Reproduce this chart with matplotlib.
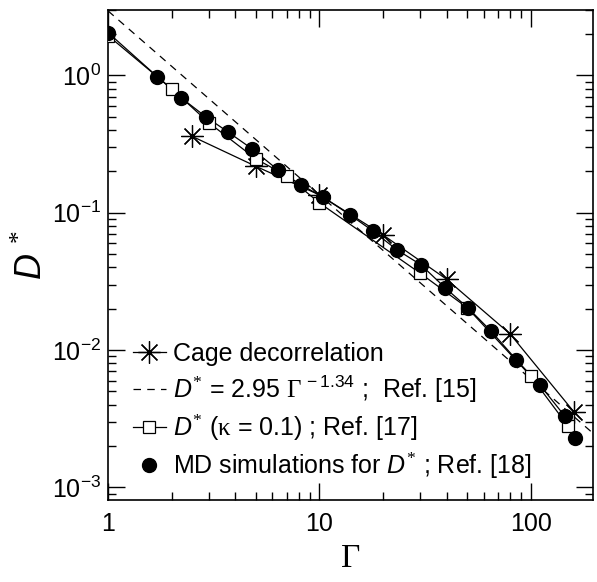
import numpy as np
import matplotlib
matplotlib.use("Agg")
import matplotlib.pyplot as plt
from matplotlib.ticker import FixedLocator, FuncFormatter, LogLocator, NullFormatter

plt.rcParams['font.family'] = ['Liberation Sans', 'DejaVu Sans']
plt.rcParams['mathtext.fontset'] = 'custom'
plt.rcParams['mathtext.rm'] = 'Liberation Serif'
plt.rcParams['mathtext.sf'] = 'Liberation Sans'
plt.rcParams['mathtext.it'] = 'Liberation Sans:italic'
plt.rcParams['mathtext.bf'] = 'Liberation Sans:bold'

# cage decorrelation (stars)
gamma_cage = [2.5, 5, 10, 20, 40, 80, 160]
D_cage = [0.36, 0.218, 0.135, 0.069, 0.0328, 0.0131, 0.00356]

# D* (kappa = 0.1), Ref. [17] (open squares)
gamma_k01 = [1, 2, 3, 5, 7, 10, 30, 50, 100, 150]
D_k01 = [1.95, 0.80, 0.452, 0.247, 0.186, 0.118, 0.0363, 0.0204, 0.00648, 0.00281]

# MD simulations, Ref. [18] (filled circles)
gamma_md = [1, 1.71, 2.21, 2.9, 3.69, 4.8, 6.37, 8.18, 10.4, 13.95, 17.9, 23.3,
            30.3, 39.4, 50.5, 64.9, 85.7, 110.6, 145, 162]
D_md = [2.05, 0.98, 0.69, 0.50, 0.388, 0.292, 0.205, 0.160, 0.130, 0.0966, 0.0738,
        0.0537, 0.0417, 0.0284, 0.0203, 0.01377, 0.00848, 0.00557, 0.00331, 0.00229]

# fit D* = 2.95 Gamma^-1.34, Ref. [15]
fit_coef = 2.95
fit_exp = -1.34
gamma_fit = np.array([1.0, 200.0])
D_fit = fit_coef * gamma_fit ** fit_exp

fig = plt.figure(figsize=(5.97, 5.82), dpi=100)
ax = fig.add_axes([0.181, 0.141, 0.812, 0.842])

ax.plot(gamma_fit, D_fit, color='black', lw=0.9, ls=(0, (6, 5)),
        label=r'$\mathit{D}^{*}$ = 2.95 $\Gamma^{\mathsf{\,-1.34}}$ ;  Ref. [15]', zorder=2)
ax.plot(gamma_cage, D_cage, color='black', lw=0.9, marker=(8, 2, 0), ms=16, mew=0.9,
        label='Cage decorrelation', zorder=3)
ax.plot(gamma_md, D_md, color='black', lw=0.9, zorder=3)
ax.plot(gamma_k01, D_k01, color='black', lw=0.9, marker='s', ms=9, mfc='white',
        mec='black', mew=0.9, label=r'$\mathit{D}^{*}$ ($\mathrm{\kappa}$ = 0.1) ; Ref. [17]', zorder=4)
ax.plot(gamma_md, D_md, ls='none', marker='o', ms=10, color='black',
        label=r'MD simulations for $\mathit{D}^{*}$ ; Ref. [18]', zorder=5)

ax.set_xscale('log')
ax.set_yscale('log')
ax.set_xlim(1, 197)
ax.set_ylim(8.1e-4, 3.0)

ax.xaxis.set_major_locator(FixedLocator([1, 10, 100]))
ax.xaxis.set_minor_locator(LogLocator(base=10, subs=np.arange(2, 10)))
ax.xaxis.set_major_formatter(FuncFormatter(lambda v, p: '%d' % v))
ax.xaxis.set_minor_formatter(NullFormatter())
ax.yaxis.set_major_locator(FixedLocator([1e-3, 1e-2, 1e-1, 1]))
ax.yaxis.set_minor_locator(LogLocator(base=10, subs=np.arange(2, 10)))
ax.yaxis.set_major_formatter(FuncFormatter(
    lambda v, p: r'$\mathsf{10^{%d}}$' % int(round(np.log10(v)))))
ax.yaxis.set_minor_formatter(NullFormatter())

ax.tick_params(which='both', direction='in', top=True, right=True, width=1, labelsize=18)
ax.tick_params(which='major', length=12)
ax.tick_params(axis='x', which='major', pad=9)
ax.tick_params(axis='y', which='major', pad=5)
ax.tick_params(which='minor', length=6)
for s in ax.spines.values():
    s.set_linewidth(1.2)

ax.set_xlabel(r'$\Gamma$', fontsize=24, labelpad=5)
ax.set_ylabel(r'$\mathit{D}^{\,*}$', fontsize=26)
ax.yaxis.set_label_coords(-0.12, 0.5)

h, l = ax.get_legend_handles_labels()
order = [1, 0, 2, 3]
ax.legend([h[i] for i in order], [l[i] for i in order], loc='lower left',
          bbox_to_anchor=(0.03, 0.018), frameon=False, fontsize=18,
          handlelength=1.35, handletextpad=0.25, labelspacing=0.3, borderaxespad=0)

fig.savefig('out.png', dpi=100)
